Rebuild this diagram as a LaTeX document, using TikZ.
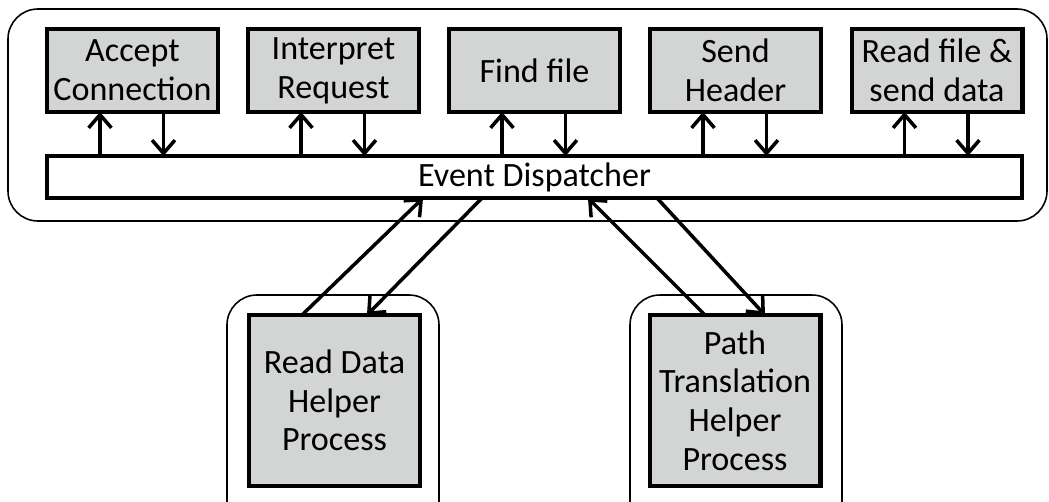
\documentclass[tikz,border=0pt]{standalone}
\usepackage{fontspec}
\setmainfont{Carlito}
\usetikzlibrary{arrows.meta}
\definecolor{boxgray}{RGB}{211,212,212}
\tikzset{
  stage/.style={draw=black, line width=2.3pt, fill=boxgray, minimum width=3.42cm,
    minimum height=1.66cm, align=center, inner sep=0pt, outer sep=0pt,
    font=\fontsize{19.4}{22}\selectfont},
  helper/.style={stage, minimum height=3.42cm},
  busbar/.style={draw=black, line width=2.1pt, fill=white, minimum width=19.5cm,
    minimum height=0.84cm, inner sep=0pt, outer sep=0pt,
    font=\fontsize{19.4}{22}\selectfont},
  frame/.style={draw=black, line width=0.9pt, rounded corners=0.6cm},
  flow/.style={line width=2pt, -{Straight Barb[length=7.5pt,width=13pt,line width=2pt]}}
}
\begin{document}
\begin{tikzpicture}[x=0.02cm, y=-0.02cm]
\useasboundingbox (0,0) rectangle (1049,501);

% containers
\draw[frame] (8,9) rectangle (1047,221);
\draw[frame] (227,295) rectangle (439,540);
\draw[frame] (630,295) rectangle (842,540);

% event loop stages
\node[stage] (accept) at (132.5,70.5) {Accept\\Connection};
\node[stage] (interp) at (333.5,70.5) {Interpret\\Request};
\node[stage] (find)   at (534.5,70.5) {Find file};
\node[stage] (header) at (735.5,70.5) {Send\\Header};
\node[stage] (send)   at (937,70.5)   {Read file \&\\send data};

\node[busbar] (bus) at (534.5,177) {Event Dispatcher};

% helper processes
\node[helper] (rdh) at (334.5,400.5) {Read Data\\Helper\\Process};
\node[helper] (pth) at (735,400.5)   {Path\\Translation\\Helper\\Process};

% stage <-> dispatcher
\foreach \s in {accept,interp,find,header,send}{
  \draw[flow] ([xshift=-0.65cm]\s.south |- bus.north) -- ([xshift=-0.65cm]\s.south);
  \draw[flow] ([xshift=0.62cm]\s.south) -- ([xshift=0.62cm]\s.south |- bus.north);
}

% helper <-> dispatcher
\draw[flow] ([xshift=-0.65cm]rdh.north) -- ([xshift=-2.23cm]bus.south);
\draw[flow] ([xshift=-1.05cm]bus.south) -- ([xshift=0.65cm]rdh.north);
\draw[flow] ([xshift=-0.6cm]pth.north) -- ([xshift=1.07cm]bus.south);
\draw[flow] ([xshift=2.45cm]bus.south) -- ([xshift=0.6cm]pth.north);
\end{tikzpicture}
\end{document}
